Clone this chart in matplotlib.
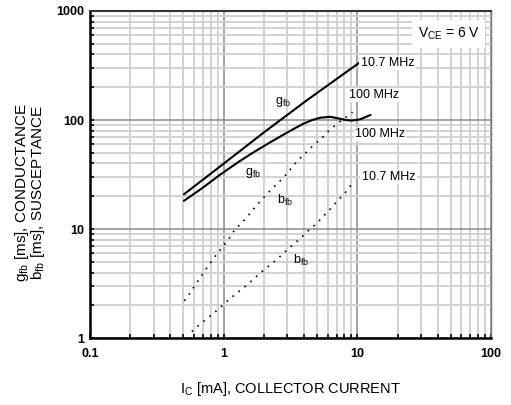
import matplotlib
matplotlib.use("Agg")
import matplotlib.pyplot as plt
from matplotlib.ticker import LogLocator, NullFormatter, FixedLocator

plt.rcParams['font.family'] = ['Liberation Sans', 'DejaVu Sans']
plt.rcParams['mathtext.fontset'] = 'custom'
plt.rcParams['mathtext.rm'] = 'Liberation Sans'
plt.rcParams['mathtext.it'] = 'Liberation Sans:italic'

# g_fb, 10.7 MHz (solid, upper)
ic_g107 = [0.506, 0.94, 2.0, 4.2, 10.2]
g_107 = [20.9, 37.5, 77.0, 152.0, 331.0]

# g_fb, 100 MHz (solid, lower)
ic_g100 = [0.506, 0.7, 0.94, 1.3, 1.67, 2.23, 2.97, 3.5, 3.96, 4.6, 5.28, 6.28,
           7.46, 8.3, 9.1, 10.5, 12.5]
g_100 = [18.2, 24.0, 31.5, 41.5, 50.5, 62.5, 76.5, 85.5, 92.5, 100.0, 105.0, 107.0,
         102.5, 99.8, 98.8, 101.5, 111.0]

# b_fb, 100 MHz (dotted, upper)
ic_b100 = [0.508, 0.555, 0.61, 0.667, 0.727, 0.88, 0.98, 1.09, 1.22, 1.36, 1.52,
           1.70, 1.93, 2.17, 2.81, 3.57, 4.07, 4.65, 5.34, 6.0, 6.96, 9.2]
b_100 = [2.2, 2.55, 3.04, 3.57, 4.2, 5.8, 6.8, 8.1, 10.0, 11.3, 13.2,
         15.7, 18.7, 21.8, 29.8, 42.3, 49.5, 58.0, 67.0, 78.0, 91.0, 118.0]

# b_fb, 10.7 MHz (dotted, lower)
ic_b107 = [0.578, 0.655, 0.757, 0.863, 0.986, 1.12, 1.29, 1.47, 1.68, 1.91, 2.2,
           2.5, 2.86, 3.74, 4.27, 4.9, 5.6, 6.4, 7.16, 8.1, 9.1]
b_107 = [1.15, 1.32, 1.52, 1.74, 2.01, 2.31, 2.66, 3.02, 3.5, 4.03, 4.64,
         5.27, 6.15, 8.2, 9.6, 11.1, 13.2, 15.7, 18.4, 21.5, 25.9]

fig = plt.figure(figsize=(5.11, 4.05), dpi=100)
ax = fig.add_axes([0.176, 0.165, 0.785, 0.808])
ax.set_xscale('log')
ax.set_yscale('log')
ax.set_xlim(0.1, 100)
ax.set_ylim(1, 1000)

# grid
ax.grid(True, which='major', color='#8a8a8a', lw=1.1)
ax.grid(True, which='minor', color='#d2d2d2', lw=1.4)
ax.set_axisbelow(True)

ax.plot(ic_g107, g_107, color='black', lw=1.5)
ax.plot(ic_g100, g_100, color='black', lw=1.5)
ax.plot(ic_b100, b_100, color='black', lw=1.2, linestyle=(0, (1, 3.6)))
ax.plot(ic_b107, b_107, color='black', lw=1.2, linestyle=(0, (1, 3.6)))

ax.xaxis.set_major_locator(FixedLocator([0.1, 1, 10, 100]))
ax.yaxis.set_major_locator(FixedLocator([1, 10, 100, 1000]))
ax.xaxis.set_minor_locator(LogLocator(base=10, subs=range(2, 10)))
ax.yaxis.set_minor_locator(LogLocator(base=10, subs=range(2, 10)))
ax.xaxis.set_minor_formatter(NullFormatter())
ax.yaxis.set_minor_formatter(NullFormatter())
ax.set_xticklabels(['0.1', '1', '10', '100'], fontweight='bold', fontsize=9)
ax.set_yticklabels(['1', '10', '100', '1000'], fontweight='bold', fontsize=9)
ax.tick_params(which='both', direction='in', length=3, width=1.2, color='black', pad=4)
ax.tick_params(axis='x', which='major', pad=7)

for s in ['left', 'bottom']:
    ax.spines[s].set_linewidth(1.8)
    ax.spines[s].set_color('black')
ax.spines['top'].set_linewidth(1.5)
ax.spines['top'].set_color('#333333')
ax.spines['right'].set_linewidth(1.0)
ax.spines['right'].set_color('#777777')

wb = dict(facecolor='white', edgecolor='none', pad=1.0)
ax.text(10.6, 333, '10.7 MHz', fontsize=9, va='center', ha='left', bbox=wb)
ax.text(8.7, 170, '100 MHz', fontsize=9, va='center', ha='left', bbox=wb)
ax.text(9.6, 74, '100 MHz', fontsize=9, va='center', ha='left', bbox=wb)
ax.text(10.8, 30, '10.7 MHz', fontsize=9, va='center', ha='left', bbox=wb)
ax.text(2.79, 146, r'g$_{\mathrm{fb}}$', fontsize=9, va='center', ha='center')
ax.text(1.66, 33, r'g$_{\mathrm{fb}}$', fontsize=9, va='center', ha='center')
ax.text(2.89, 18.5, r'b$_{\mathrm{fb}}$', fontsize=9, va='center', ha='center')
ax.text(3.82, 5.2, r'b$_{\mathrm{fb}}$', fontsize=9, va='center', ha='center')
ax.text(0.972, 0.93, r'V$_{\mathrm{CE}}$ = 6 V', fontsize=10, va='center', ha='right',
        transform=ax.transAxes, bbox=dict(facecolor='white', edgecolor='none', pad=4))

fig.text(0.043, 0.525, r'g$_{\mathrm{fb}}$ [ms], CONDUCTANCE', rotation=90,
         fontsize=11, va='center', ha='center')
fig.text(0.075, 0.525, r'b$_{\mathrm{fb}}$ [ms], SUSCEPTANCE', rotation=90,
         fontsize=11, va='center', ha='center')
fig.text(0.568, 0.04, r'I$_{\mathrm{C}}$ [mA], COLLECTOR CURRENT', fontsize=10.5,
         va='center', ha='center')

fig.savefig('out.png', dpi=100)
